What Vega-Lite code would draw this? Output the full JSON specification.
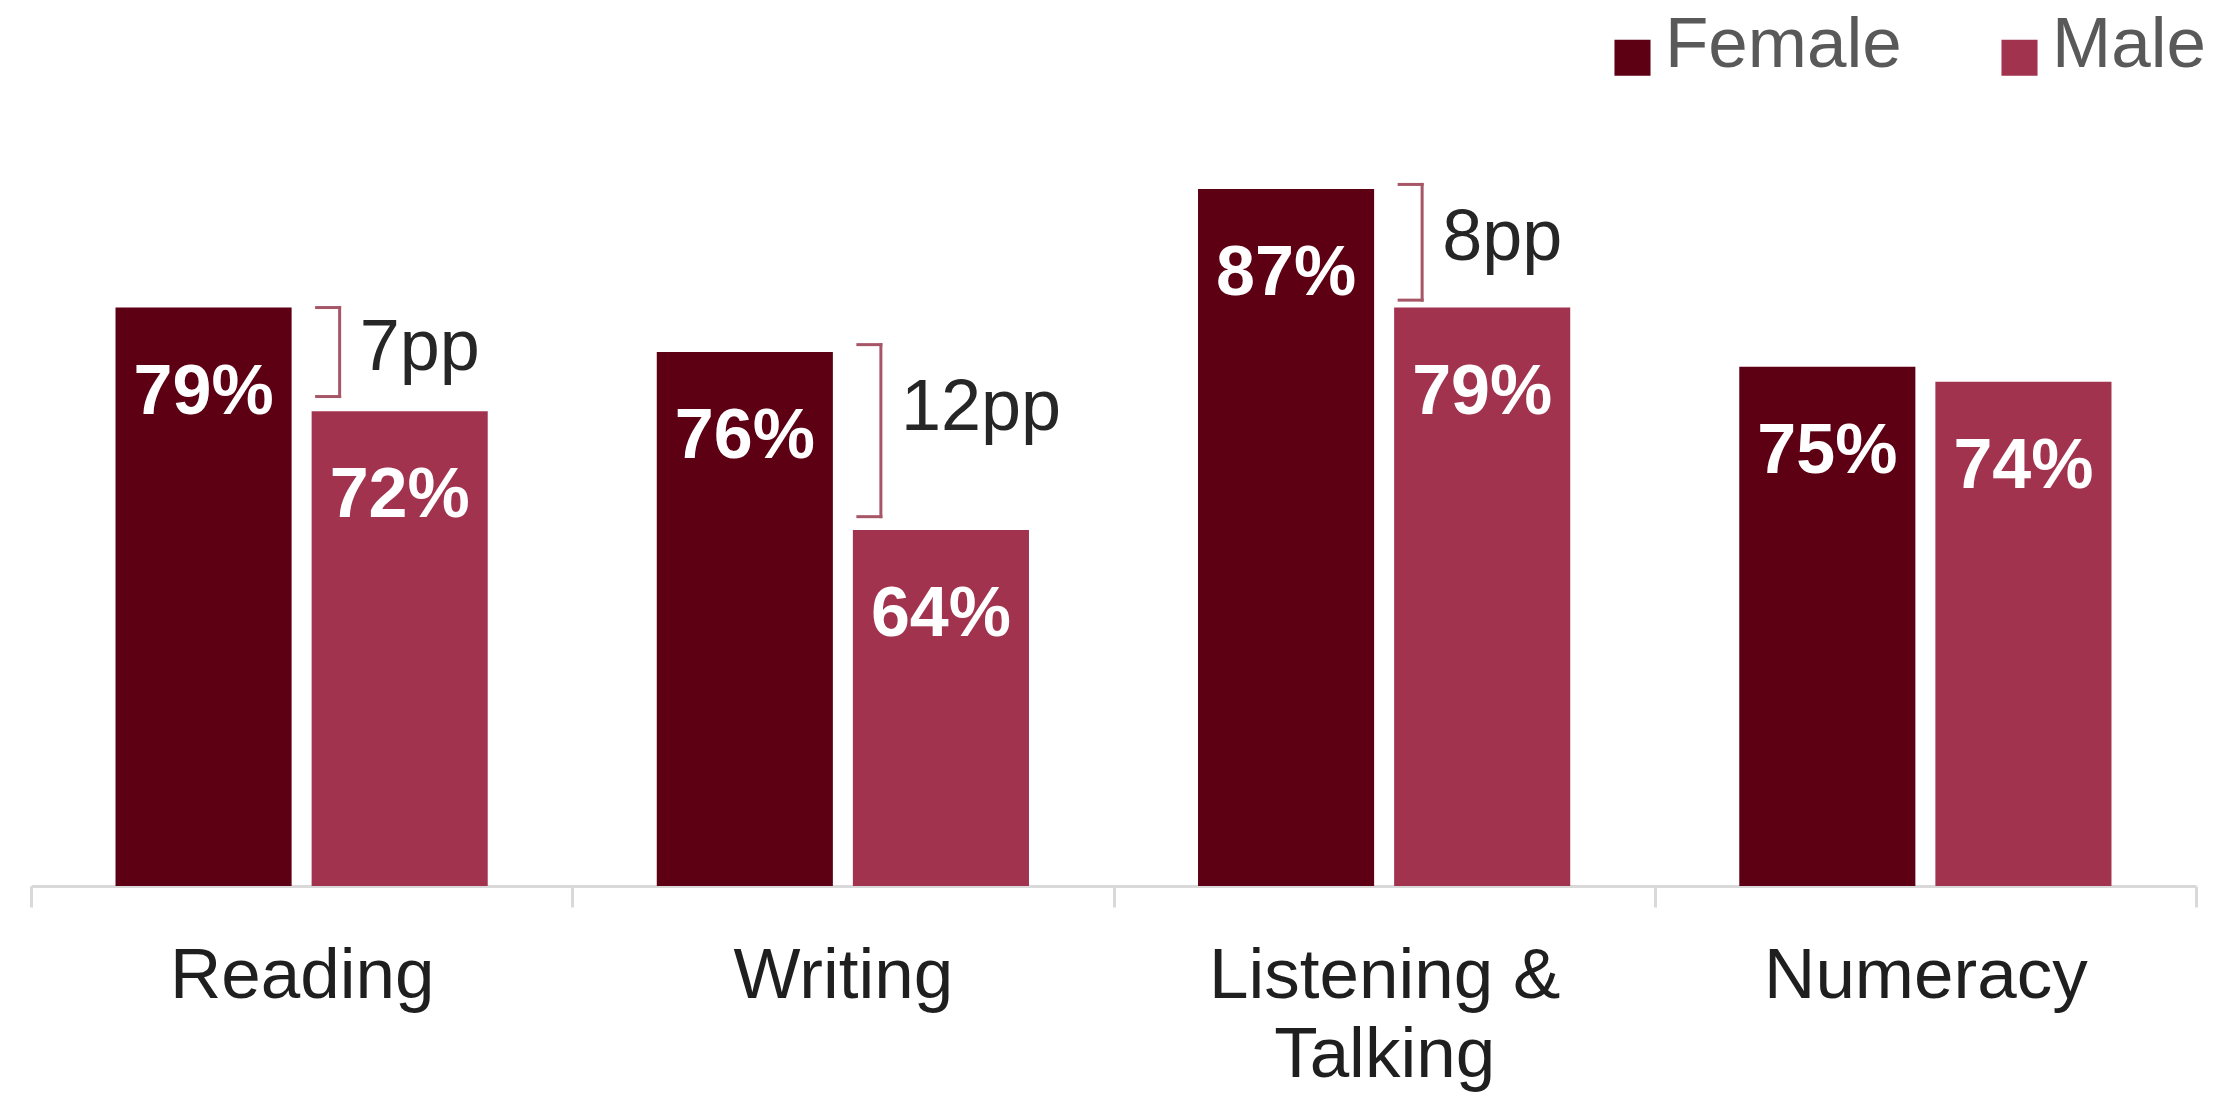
{
  "$schema": "https://vega.github.io/schema/vega-lite/v6.json",
  "width": 2165,
  "height": 884,
  "autosize": {"type": "none"},
  "padding": {"left": 31, "top": 2, "right": 21, "bottom": 208},
  "background": "white",
  "config": {"view": {"stroke": null}, "font": "Liberation Sans"},
  "datasets": {
    "bars": [
      {"skill": "Reading", "sex": "Female", "value": 0.79},
      {"skill": "Reading", "sex": "Male", "value": 0.72},
      {"skill": "Writing", "sex": "Female", "value": 0.76},
      {"skill": "Writing", "sex": "Male", "value": 0.64},
      {"skill": "Listening & Talking", "sex": "Female", "value": 0.87},
      {"skill": "Listening & Talking", "sex": "Male", "value": 0.79},
      {"skill": "Numeracy", "sex": "Female", "value": 0.75},
      {"skill": "Numeracy", "sex": "Male", "value": 0.74}
    ],
    "brackets": [
      {"skill": "Reading", "top": 0.790, "bottom": 0.730, "label": "7pp", "label_y": 0.748},
      {"skill": "Writing", "top": 0.765, "bottom": 0.649, "label": "12pp", "label_y": 0.7075},
      {"skill": "Listening & Talking", "top": 0.873, "bottom": 0.795, "label": "8pp", "label_y": 0.822}
    ]
  },
  "layer": [
    {
      "data": {"name": "bars"},
      "mark": {"type": "bar"},
      "encoding": {
        "x": {
          "field": "skill", "type": "nominal",
          "sort": ["Reading", "Writing", "Listening & Talking", "Numeracy"],
          "scale": {"paddingInner": 0, "paddingOuter": 0},
          "axis": {
            "title": null, "domainColor": "#d9d9d9", "domainWidth": 3,
            "tickColor": "#d9d9d9", "tickWidth": 3, "tickSize": 21, "tickBand": "extent",
            "labelFontSize": 71, "labelColor": "#1f1f1f", "labelPadding": 90,
            "labelBaseline": "alphabetic", "labelLineHeight": 79, "labelAngle": 0,
            "labelLimit": 600, "labelFont": "Liberation Sans",
            "labelExpr": "datum.value == 'Listening & Talking' ? ['Listening &', 'Talking'] : datum.value"
          }
        },
        "xOffset": {"field": "sex", "type": "nominal", "sort": ["Female", "Male"], "scale": {"paddingInner": 0.102, "paddingOuter": 0.431}},
        "y": {"field": "value", "type": "quantitative", "scale": {"domain": [0.40, 0.996], "nice": false, "zero": false}, "axis": null},
        "y2": {"datum": 0.40},
        "color": {
          "field": "sex", "type": "nominal",
          "scale": {"domain": ["Female", "Male"], "range": ["#5e0014", "#a2334f"]},
          "legend": {
            "title": null, "orient": "none", "legendX": 1566, "legendY": 8,
            "direction": "horizontal", "symbolType": "M-1,-0.33H1V1.67H-1Z", "symbolSize": 1300,
            "symbolStrokeWidth": 0, "labelFontSize": 71, "labelColor": "#595959",
            "labelOffset": -3, "columnPadding": 82, "padding": 0, "labelLimit": 500,
            "labelFont": "Liberation Sans"
          }
        }
      }
    },
    {
      "data": {"name": "bars"},
      "mark": {"type": "text", "align": "center", "baseline": "alphabetic", "dy": 106, "fontSize": 70, "fontWeight": "bold", "color": "white", "font": "Liberation Sans"},
      "encoding": {
        "x": {"field": "skill", "type": "nominal", "sort": ["Reading", "Writing", "Listening & Talking", "Numeracy"]},
        "xOffset": {"field": "sex", "type": "nominal", "sort": ["Female", "Male"]},
        "y": {"field": "value", "type": "quantitative", "scale": {"domain": [0.40, 0.996], "nice": false, "zero": false}, "axis": null},
        "text": {"field": "value", "format": ".0%"}
      }
    },
    {
      "data": {"name": "brackets"},
      "mark": {"type": "rule", "xOffset": 38, "color": "#a65667", "strokeWidth": 3, "strokeCap": "square"},
      "encoding": {
        "x": {"field": "skill", "type": "nominal", "sort": ["Reading", "Writing", "Listening & Talking", "Numeracy"]},
        "y": {"field": "top", "type": "quantitative", "scale": {"domain": [0.40, 0.996], "nice": false, "zero": false}, "axis": null},
        "y2": {"field": "bottom"}
      }
    },
    {
      "data": {"name": "brackets"},
      "mark": {"type": "rule", "xOffset": 15, "x2Offset": 38, "color": "#a65667", "strokeWidth": 3, "strokeCap": "square"},
      "encoding": {
        "x": {"field": "skill", "type": "nominal", "sort": ["Reading", "Writing", "Listening & Talking", "Numeracy"]},
        "x2": {"field": "skill"},
        "y": {"field": "top", "type": "quantitative", "scale": {"domain": [0.40, 0.996], "nice": false, "zero": false}, "axis": null}
      }
    },
    {
      "data": {"name": "brackets"},
      "mark": {"type": "rule", "xOffset": 15, "x2Offset": 38, "color": "#a65667", "strokeWidth": 3, "strokeCap": "square"},
      "encoding": {
        "x": {"field": "skill", "type": "nominal", "sort": ["Reading", "Writing", "Listening & Talking", "Numeracy"]},
        "x2": {"field": "skill"},
        "y": {"field": "bottom", "type": "quantitative", "scale": {"domain": [0.40, 0.996], "nice": false, "zero": false}, "axis": null}
      }
    },
    {
      "data": {"name": "brackets"},
      "mark": {"type": "text", "align": "left", "baseline": "alphabetic", "xOffset": 58, "fontSize": 72, "color": "#262626", "font": "Liberation Sans"},
      "encoding": {
        "x": {"field": "skill", "type": "nominal", "sort": ["Reading", "Writing", "Listening & Talking", "Numeracy"]},
        "y": {"field": "label_y", "type": "quantitative", "scale": {"domain": [0.40, 0.996], "nice": false, "zero": false}, "axis": null},
        "text": {"field": "label"}
      }
    }
  ]
}
